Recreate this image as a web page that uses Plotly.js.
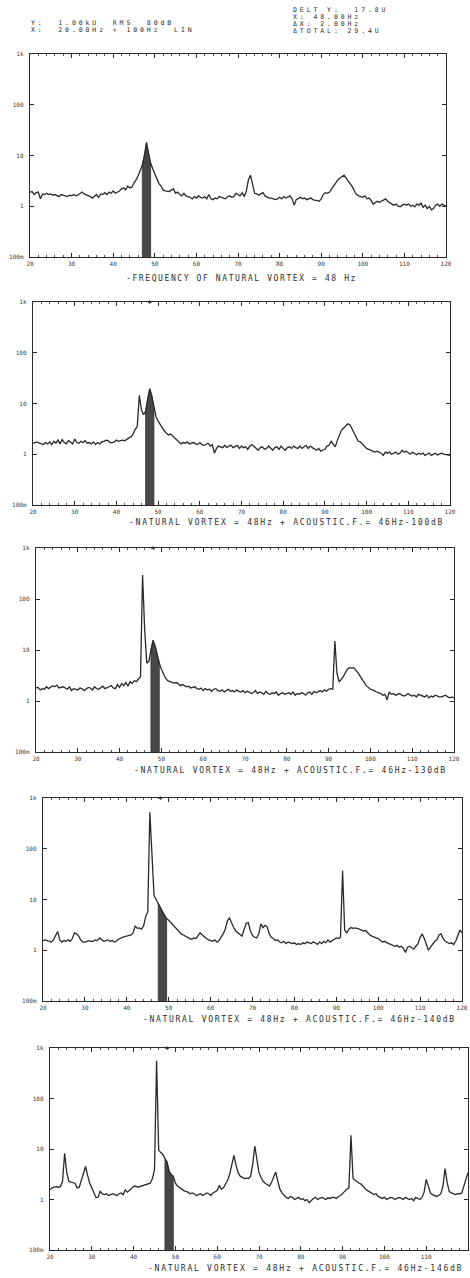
<!DOCTYPE html>
<html><head><meta charset="utf-8">
<script src="https://cdn.plot.ly/plotly-3.0.1.min.js"></script>
<style>html,body{margin:0;padding:0;background:#fff}#chart{width:470px;height:1278px}</style>
</head><body><div id="chart"></div>
<script>
// ---------------- DATA ----------------
const freqHz = [
20,20.5,21,21.5,22,22.5,23,23.5,24,24.5,25,25.5,26,26.5,27,27.5,28,28.5,29,29.5,
30,30.5,31,31.5,32,32.5,33,33.5,34,34.5,35,35.5,36,36.5,37,37.5,38,38.5,39,39.5,
40,40.5,41,41.5,42,42.5,43,43.5,44,44.5,45,45.5,46,46.5,47,47.5,48,48.5,49,49.5,
50,50.5,51,51.5,52,52.5,53,53.5,54,54.5,55,55.5,56,56.5,57,57.5,58,58.5,59,59.5,
60,60.5,61,61.5,62,62.5,63,63.5,64,64.5,65,65.5,66,66.5,67,67.5,68,68.5,69,69.5,
70,70.5,71,71.5,72,72.5,73,73.5,74,74.5,75,75.5,76,76.5,77,77.5,78,78.5,79,79.5,
80,80.5,81,81.5,82,82.5,83,83.5,84,84.5,85,85.5,86,86.5,87,87.5,88,88.5,89,89.5,
90,90.5,91,91.5,92,92.5,93,93.5,94,94.5,95,95.5,96,96.5,97,97.5,98,98.5,99,99.5,
100,100.5,101,101.5,102,102.5,103,103.5,104,104.5,105,105.5,106,106.5,107,107.5,108,108.5,109,109.5,
110,110.5,111,111.5,112,112.5,113,113.5,114,114.5,115,115.5,116,116.5,117,117.5,118,118.5,119,119.5,
120];

// Panel 1: natural vortex only
const vortexOnly = [
1.9,1.95,1.7,1.85,1.9,1.4,1.75,1.7,1.8,1.7,1.75,1.65,1.7,1.6,1.55,1.7,1.65,1.6,1.55,1.65,
1.6,1.7,1.6,1.65,1.8,1.9,1.75,1.7,1.6,1.55,1.45,1.6,1.7,1.5,1.75,1.7,1.85,1.7,1.9,1.8,
2.0,1.8,1.9,2.0,2.2,2.3,2.1,2.5,2.3,2.4,2.9,3.3,4.0,5.0,6.5,10,18,11,7,5.5,
4.5,3.5,2.8,2.5,2.1,2.0,2.0,1.95,2.1,2.2,1.8,1.9,1.7,1.6,1.8,1.6,1.55,1.5,1.4,1.55,
1.45,1.6,1.5,1.45,1.55,1.4,1.7,1.4,1.35,1.45,1.4,1.55,1.5,1.45,1.4,1.55,1.6,1.5,1.55,1.8,
1.7,1.6,1.85,1.55,2.0,3.3,4.1,2.8,1.8,1.75,1.65,1.75,1.85,1.6,1.5,1.45,1.45,1.4,1.35,1.4,
1.5,1.4,1.55,1.45,1.5,1.6,1.4,1.05,1.35,1.45,1.5,1.4,1.45,1.35,1.4,1.45,1.35,1.3,1.3,1.25,
1.4,1.7,1.85,1.8,1.9,2.2,2.5,2.9,3.3,3.6,3.9,4.1,3.6,3.2,2.8,2.4,2.0,1.7,1.6,1.55,
1.5,1.6,1.4,1.45,1.3,1.1,1.2,1.25,1.2,1.25,1.3,1.4,1.25,1.15,1.1,1.05,1.1,1.0,0.98,1.05,
1.1,1.05,1.1,1.0,1.05,0.97,1.1,1.05,1.15,0.95,1.05,0.9,1.0,0.85,0.9,1.05,1.1,1.0,1.1,1.05,
1.0];

// Panel 2: + acoustic 46 Hz at 100 dB
const acoustic100dB = [
1.65,1.7,1.75,1.65,1.6,1.55,1.7,1.6,1.75,1.55,1.8,1.65,1.9,1.6,1.95,1.7,1.6,1.85,1.75,1.6,
2.0,1.7,1.65,1.8,1.7,1.85,1.65,1.7,1.6,1.75,1.55,1.7,1.6,1.75,1.8,1.9,1.85,1.7,1.7,1.75,
1.9,1.8,1.85,1.9,1.85,2.0,2.1,2.2,2.5,3.1,3.5,14.5,7.5,6.0,7.0,12,19.5,14,8,5.5,
4.5,3.8,3.3,2.9,2.6,2.4,2.5,2.3,2.1,1.9,1.8,1.6,1.7,1.65,1.75,1.6,1.65,1.7,1.6,1.55,
1.7,1.55,1.5,1.6,1.65,1.45,1.55,1.05,1.3,1.45,1.4,1.35,1.5,1.35,1.45,1.5,1.35,1.4,1.5,1.3,
1.45,1.35,1.4,1.25,1.45,1.55,1.4,1.3,1.2,1.35,1.4,1.25,1.3,1.45,1.3,1.2,1.35,1.4,1.25,1.45,
1.3,1.2,1.35,1.4,1.3,1.45,1.35,1.3,1.45,1.3,1.4,1.5,1.3,1.45,1.35,1.25,1.2,1.3,1.15,1.2,
1.25,1.45,1.5,1.8,1.6,1.4,1.9,2.4,3.0,3.3,3.6,4.0,3.8,3.2,2.7,2.2,1.8,1.75,1.6,1.4,
1.3,1.25,1.2,1.15,1.1,1.15,1.1,1.05,0.95,1.1,1.05,1.1,1.0,1.05,1.1,1.0,1.05,1.2,1.1,1.15,
1.05,1.0,1.1,1.05,0.98,1.05,1.0,1.05,0.95,1.0,1.05,0.95,1.0,1.05,0.97,1.02,1.05,1.0,0.98,0.95,
0.95];

// Panel 3: + acoustic 46 Hz at 130 dB
const acoustic130dB = [
1.8,1.85,1.65,1.75,1.7,1.9,1.75,1.85,2.0,1.9,2.05,1.8,1.85,1.9,1.8,1.7,1.9,1.6,1.75,1.7,
1.65,1.8,1.75,1.6,1.7,1.85,1.8,1.65,1.9,1.75,1.7,1.8,1.95,1.75,1.8,1.9,2.0,1.8,1.75,2.1,
1.85,2.2,2.0,2.3,1.95,2.4,2.2,2.5,2.4,2.7,3.0,296,25,5.5,6.0,10,15.5,12,8,5.5,
4.2,3.3,2.8,2.5,2.4,2.3,2.25,2.3,2.2,2.0,2.1,2.0,1.9,1.95,1.8,1.85,1.9,1.75,1.7,1.8,
1.6,1.75,1.65,1.7,1.55,1.7,1.75,1.6,1.55,1.65,1.5,1.6,1.7,1.55,1.6,1.5,1.65,1.55,1.5,1.6,
1.45,1.55,1.5,1.4,1.45,1.6,1.4,1.5,1.45,1.35,1.55,1.4,1.35,1.45,1.4,1.5,1.3,1.4,1.45,1.35,
1.4,1.45,1.35,1.5,1.3,1.4,1.35,1.45,1.4,1.3,1.45,1.5,1.35,1.55,1.45,1.5,1.6,1.5,1.65,1.55,
1.7,1.75,1.7,15,3.5,2.4,2.6,3.0,3.6,4.2,4.5,4.4,4.5,4.1,3.6,3.1,2.7,2.3,2.0,1.85,
1.7,1.65,1.6,1.5,1.45,1.4,1.3,1.35,1.05,1.5,1.35,1.4,1.3,1.35,1.4,1.3,1.25,1.3,1.4,1.3,
1.25,1.3,1.2,1.35,1.3,1.25,1.2,1.3,1.15,1.25,1.2,1.3,1.25,1.2,1.2,1.25,1.3,1.2,1.15,1.2,
1.15];

// Panel 4: + acoustic 46 Hz at 140 dB
const acoustic140dB = [
1.55,1.6,1.55,1.5,1.45,1.6,1.9,2.35,1.6,1.45,1.55,1.5,1.6,1.5,1.7,2.2,2.1,1.9,1.6,1.45,
1.45,1.5,1.55,1.5,1.5,1.6,1.55,1.75,1.6,1.5,1.55,1.6,1.5,1.55,1.45,1.5,1.65,1.75,1.8,1.85,
1.9,2.0,2.0,2.2,3.0,2.7,2.75,2.6,3.0,4.6,5.7,525,60,12,10,8.5,7.0,5.8,4.8,4.2,
3.9,3.5,3.1,2.8,2.5,2.3,2.1,2.0,1.9,1.75,1.7,1.65,1.75,1.7,1.9,2.2,2.0,1.8,1.7,1.6,
1.55,1.5,1.6,1.45,1.55,1.8,2.1,2.6,3.8,4.3,3.4,2.8,2.4,2.2,2.0,1.9,2.6,3.4,3.5,2.4,
1.95,1.8,1.75,2.1,3.3,2.8,3.1,2.9,2.1,1.8,1.7,1.55,1.6,1.45,1.4,1.5,1.35,1.45,1.4,1.35,
1.4,1.3,1.35,1.3,1.4,1.35,1.45,1.4,1.35,1.45,1.4,1.3,1.45,1.35,1.5,1.4,1.6,1.45,1.55,1.7,
1.75,1.7,1.8,37,2.5,2.2,2.6,2.8,2.7,2.75,2.7,2.6,2.5,2.4,2.45,2.2,2.0,1.9,1.8,1.75,
1.7,1.55,1.45,1.5,1.4,1.35,1.3,1.25,1.2,1.25,1.15,1.2,1.1,0.9,1.15,1.2,1.1,1.05,1.2,1.35,
1.8,2.1,1.7,1.3,1.0,1.15,1.3,1.5,1.6,2.0,2.1,1.7,1.5,1.4,1.35,1.4,1.3,1.5,2.0,2.5,
2.2];

// Panel 5: + acoustic 46 Hz at 146 dB
const acoustic146dB = [
1.55,1.7,1.75,1.8,1.75,1.8,2.3,8.2,3.5,2.3,2.2,2.15,2.1,1.7,1.75,2.4,3.5,4.5,3.0,2.1,
1.7,1.35,1.1,1.1,1.45,1.3,1.25,1.3,1.2,1.25,1.3,1.25,1.2,1.3,1.35,1.25,1.55,1.4,1.5,1.65,
1.8,1.85,1.75,1.8,1.85,1.9,1.95,2.0,2.1,2.6,3.9,560,9.5,8.5,7.8,6.5,5.5,3.6,3.1,2.9,
2.1,1.85,1.7,1.6,1.5,1.45,1.4,1.3,1.35,1.3,1.2,1.25,1.3,1.2,1.25,1.35,1.3,1.2,1.35,1.4,
1.5,1.9,1.6,1.7,2.0,2.4,3.2,5.0,7.5,4.8,3.4,2.9,2.7,2.6,2.65,2.6,2.9,5.0,11.4,5.5,
3.4,2.7,2.3,2.1,1.95,1.85,2.2,2.8,3.5,2.3,1.6,1.35,1.2,1.1,1.05,1.15,1.1,1.0,1.05,1.1,
1.0,1.05,0.95,1.0,0.86,0.95,1.05,1.1,1.0,1.05,1.1,1.05,1.0,1.08,1.05,1.1,1.1,1.05,1.15,1.2,
1.3,1.45,1.6,1.7,18.7,2.6,2.4,2.2,2.1,2.0,1.75,1.6,1.5,1.4,1.35,1.25,1.3,1.15,1.1,1.05,
1.1,1.0,1.05,1.1,1.08,1.0,1.05,1.1,1.05,1.0,1.1,1.05,1.0,1.05,0.95,1.1,1.05,1.0,1.1,1.4,
2.5,1.8,1.35,1.25,1.2,1.15,1.2,1.3,1.8,4.1,2.2,1.45,1.35,1.3,1.25,1.3,1.3,1.35,1.8,2.5,
3.4];

const captions = [
  "-FREQUENCY OF NATURAL VORTEX = 48 Hz",
  "-NATURAL VORTEX = 48Hz + ACOUSTIC.F.= 46Hz-100dB",
  "-NATURAL VORTEX = 48Hz + ACOUSTIC.F.= 46Hz-130dB",
  "-NATURAL VORTEX = 48Hz + ACOUSTIC.F.= 46Hz-140dB",
  "-NATURAL VORTEX = 48Hz + ACOUSTIC.F.= 46Hz-146dB"
];
const bandLoHz = [47, 47, 47.5, 47.5, 47.5];
const bandHiHz = [49, 49, 49.5, 49.5, 49.5];
const cursorHz = 48;
const cursorShown = [false, true, true, true, true];
const yTickVals = [0.1, 1, 10, 100, 1000];
const yTickText = ["100m", "1", "10", "100", "1k"];
const xTickVals = [20, 30, 40, 50, 60, 70, 80, 90, 100, 110, 120];
const headerLeft = ["Y:  1.00kU  RMS  80dB", "X:  20.00Hz + 100Hz  LIN"];
const headerRight = ["DELT Y:  17.8U", "X: 48.00Hz", "\u0394X: 2.00Hz", "\u0394TOTAL: 29.4U"];

// ---------------- LAYOUT (pixels) ----------------
const W = 470, H = 1278;
const boxes = [[30,446,54,257],[33,450,302,505],[36,454,548,752],[43,462,798,1001],[50,468,1048,1250]];
const captionPos = [[125,278.5],[128,522],[133,770],[142,1019.5],[147,1268]];
const captionSpacing = [1.6, 1.75, 1.7, 1.7, 1.75];
const headerLeftPos = [[30,23],[30,29.5]];
const headerRightPos = [[292,10.5],[292,17],[292,24],[292,31]];

const series = [vortexOnly, acoustic100dB, acoustic130dB, acoustic140dB, acoustic146dB];
series.forEach((s,k)=>{ if (s.length !== freqHz.length) throw new Error("panel "+(k+1)+" length "+s.length); });

const INK = "#2a2a2a";
const MONO = "DejaVu Sans Mono, monospace";
const data = [];
const layout = {
  width: W, height: H, margin: {l:0,r:0,t:0,b:0},
  paper_bgcolor: "#ffffff", plot_bgcolor: "#ffffff",
  showlegend: false, annotations: []
};
const annSpacing = [];

series.forEach((ys, k) => {
  const s = k === 0 ? "" : String(k+1);
  const [l, r, t, b] = boxes[k];
  const lo = bandLoHz[k], hi = bandHiHz[k];
  const inBand = freqHz.map((f,i)=>[f, ys[i]]).filter(p => p[0] >= lo - 1e-9 && p[0] <= hi + 1e-9);
  data.push({
    type: "scatter", mode: "lines", xaxis: "x"+s, yaxis: "y"+s,
    x: [lo, ...inBand.map(p=>p[0]), hi],
    y: [yTickVals[0], ...inBand.map(p=>p[1]), yTickVals[0]],
    fill: "toself", fillcolor: "#474747",
    line: {color: "#363636", width: 0.8}, hoverinfo: "skip"
  });
  data.push({
    type: "scatter", mode: "lines", xaxis: "x"+s, yaxis: "y"+s,
    x: freqHz, y: ys, line: {color: INK, width: 1.3}, hoverinfo: "skip"
  });
  if (cursorShown[k]) {
    data.push({
      type: "scatter", mode: "markers", xaxis: "x"+s, yaxis: "y"+s,
      x: [cursorHz], y: [yTickVals[yTickVals.length-1]], cliponaxis: false,
      marker: {symbol: "triangle-up", size: 4, color: "#444"}, hoverinfo: "skip"
    });
  }
  layout["xaxis"+s] = {
    domain: [l/W, r/W], range: [20, 120], anchor: "y"+s,
    tickmode: "array", tickvals: xTickVals,
    ticks: "inside", ticklen: 4, tickwidth: 1, tickcolor: INK,
    minor: {tick0: 20, dtick: 2, ticks: "inside", ticklen: 2, tickcolor: "#555", showgrid: false},
    showline: true, linecolor: INK, linewidth: 1.3, mirror: "ticks",
    showgrid: false, zeroline: false, fixedrange: true,
    tickfont: {family: MONO, size: 6, color: "#3a3a3a"}, ticklabelstandoff: 0
  };
  layout["yaxis"+s] = {
    domain: [1 - b/H, 1 - t/H], type: "log", range: [-1, 3], anchor: "x"+s,
    tickmode: "array", tickvals: yTickVals, ticktext: yTickText,
    ticks: "inside", ticklen: 4, tickwidth: 1, tickcolor: INK,
    showline: true, linecolor: INK, linewidth: 1.3, mirror: "ticks",
    showgrid: false, zeroline: false, fixedrange: true,
    tickfont: {family: MONO, size: 6, color: "#3a3a3a"}, ticklabelstandoff: 4
  };
  layout.annotations.push({
    xref: "paper", yref: "paper", x: captionPos[k][0]/W, y: 1 - captionPos[k][1]/H,
    xanchor: "left", yanchor: "middle", align: "left", showarrow: false,
    borderpad: 0,
    text: captions[k], font: {family: MONO, size: 8, color: "#2e2e2e"}
  });
  annSpacing.push(captionSpacing[k]);
});

headerLeft.forEach((txt, i) => {
  layout.annotations.push({
    xref: "paper", yref: "paper", x: headerLeftPos[i][0]/W, y: 1 - headerLeftPos[i][1]/H,
    xanchor: "left", yanchor: "middle", align: "left", showarrow: false, borderpad: 0,
    text: txt, font: {family: MONO, size: 6.5, color: "#2e2e2e"}
  });
  annSpacing.push(2.9);
});
headerRight.forEach((txt, i) => {
  layout.annotations.push({
    xref: "paper", yref: "paper", x: headerRightPos[i][0]/W, y: 1 - headerRightPos[i][1]/H,
    xanchor: "left", yanchor: "middle", align: "left", showarrow: false, borderpad: 0,
    text: txt, font: {family: MONO, size: 6.5, color: "#2e2e2e"}
  });
  annSpacing.push(2.9);
});

Plotly.newPlot("chart", data, layout, {staticPlot: true, displayModeBar: false}).then(gd => {
  gd.querySelectorAll(".annotation").forEach(g => {
    const i = +g.getAttribute("data-index");
    const t = g.querySelector("text.annotation-text");
    if (t && annSpacing[i] != null) t.style.letterSpacing = annSpacing[i] + "px";
  });
});
</script>
</body></html>
